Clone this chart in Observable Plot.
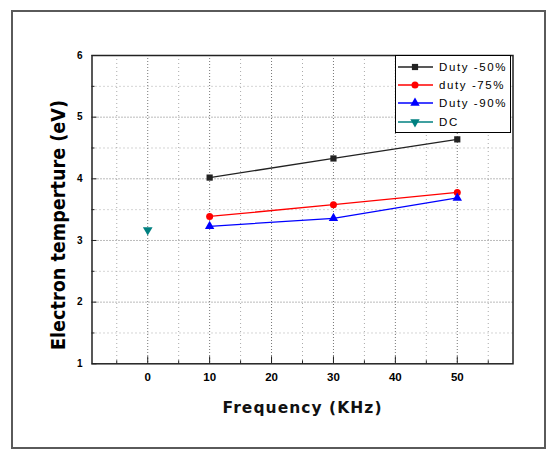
<!DOCTYPE html>
<html>
<head>
<meta charset="utf-8">
<script src="https://cdn.jsdelivr.net/npm/d3@7"></script>
<script src="https://cdn.jsdelivr.net/npm/@observablehq/plot@0.6"></script>
<style>
  html, body { margin: 0; padding: 0; background: #fff; }
  #wrap { position: relative; width: 547px; height: 451px; overflow: hidden; }
  #frame { position: absolute; left: 11px; top: 10px; width: 531px; height: 435px; border: 2.5px solid #5a5a5a; box-sizing: content-box; }
  #chart { position: absolute; left: 0; top: 0; }
  #titles { position: absolute; left: 0; top: 0; pointer-events: none; }
  #legend { position: absolute; left: 395px; top: 55px; width: 114px; height: 76px; border: 1.5px solid #000; background: #fff; }
  #legend .row { position: absolute; left: 0; height: 18px; display: flex; align-items: center; }
  #legend .lab { font-family: "Liberation Sans", Arial, sans-serif; font-size: 11.5px; letter-spacing: 1.6px; color: #000; margin-left: 3px; }
</style>
</head>
<body>
<div id="wrap">
  <div id="frame"></div>
  <div id="chart"></div>
  <svg id="titles" width="547" height="451">
    <text id="xtitle" x="302" y="408" text-anchor="middle" dominant-baseline="central"
      font-family="DejaVu Sans, Verdana, sans-serif" font-weight="bold" font-size="15.5" fill="#111"
      textLength="159" lengthAdjust="spacing">Frequency (KHz)</text>
    <text id="ytitle" transform="translate(58,225) rotate(-90)" text-anchor="middle" dominant-baseline="central"
      font-family="DejaVu Sans, Verdana, sans-serif" font-weight="bold" font-size="19" fill="#000"
      textLength="250" lengthAdjust="spacingAndGlyphs">Electron temperture (eV)</text>
  </svg>
  <div id="legend"></div>
</div>
<script>
// ---- data ----
const frequency = [10, 30, 50];
const duty50 = [4.02, 4.33, 4.64];
const duty75 = [3.39, 3.58, 3.78];
const duty90 = [3.23, 3.36, 3.69];
const dcFrequency = [0];
const dcValue = [3.17];

const seriesNames = ["Duty -50%", "duty -75%", "Duty -90%", "DC"];
const seriesColors = ["#222222", "#ff0000", "#0000ff", "#008080"];
const seriesSymbols = ["square", "circle", "triangle", "triangle"];
const seriesRotate = [0, 0, 0, 180];

const xMajorTicks = [0, 10, 20, 30, 40, 50];
const xMinorTicks = [-5, 5, 15, 25, 35, 45, 55];
const yMajorTicks = [1, 2, 3, 4, 5, 6];
const yMinorTicks = [1.5, 2.5, 3.5, 4.5, 5.5];

const mk = (xs, ys, s) => xs.map((x, i) => ({x, y: ys[i], s}));
const lines = [
  ...mk(frequency, duty50, seriesNames[0]),
  ...mk(frequency, duty75, seriesNames[1]),
  ...mk(frequency, duty90, seriesNames[2])
];
const dc = mk(dcFrequency, dcValue, seriesNames[3]);

const tickFont = {fontFamily: "Liberation Sans, Arial, sans-serif", fontWeight: "bold", tickFormat: d => String(d), fill: "#000"};

const chart = Plot.plot({
  width: 547,
  height: 451,
  marginLeft: 91.5,
  marginRight: 34.5,
  marginTop: 55,
  marginBottom: 87.7,
  style: {background: "transparent", color: "#000"},
  x: {domain: [-9, 59]},
  y: {domain: [1, 6]},
  color: {domain: seriesNames, range: seriesColors},
  marks: [
    Plot.gridX(xMajorTicks, {stroke: "#777", strokeOpacity: 1, strokeDasharray: "1,2", strokeWidth: 1}),
    Plot.gridX(xMinorTicks, {stroke: "#aaa", strokeOpacity: 1, strokeDasharray: "1,3", strokeWidth: 1}),
    Plot.gridY(yMajorTicks.slice(1, -1), {stroke: "#777", strokeOpacity: 1, strokeDasharray: "1,2", strokeWidth: 1}),
    Plot.gridY(yMinorTicks, {stroke: "#aaa", strokeOpacity: 1, strokeDasharray: "1,3", strokeWidth: 1}),
    Plot.axisX({ticks: xMajorTicks, tickSize: -7, fill: "none", label: null, stroke: "#222"}),
    Plot.axisX({ticks: xMinorTicks, tickSize: -3, fill: "none", label: null, stroke: "#222"}),
    Plot.axisY({ticks: yMajorTicks, tickSize: -5, fill: "none", label: null, stroke: "#222"}),
    Plot.axisY({ticks: yMinorTicks, tickSize: -3, fill: "none", label: null, stroke: "#222"}),
    Plot.axisX({ticks: xMajorTicks, tickSize: 0, tickPadding: 9, label: null, fontSize: 11.5, ...tickFont}),
    Plot.axisY({ticks: yMajorTicks, tickSize: 0, tickPadding: 9.5, label: null, fontSize: 10, ...tickFont}),
    Plot.frame({stroke: "#222", strokeWidth: 1.5}),
    Plot.line(lines, {x: "x", y: "y", z: "s", stroke: "s", strokeWidth: 1.3}),
    Plot.dot(lines, {x: "x", y: "y", fill: "s", stroke: "none",
      symbol: d => seriesSymbols[seriesNames.indexOf(d.s)], r: 3.5}),
    Plot.dot(dc, {x: "x", y: "y", fill: "s", stroke: "none", symbol: "triangle", rotate: 180, r: 3.6})
  ]
});
document.getElementById("chart").appendChild(chart);

// ---- legend ----
const legend = document.getElementById("legend");
const symbolPath = (sym, rot) => {
  const p = d3.symbol(sym === "square" ? d3.symbolSquare : sym === "circle" ? d3.symbolCircle : d3.symbolTriangle, Math.PI * 3.5 * 3.5)();
  return `<path d="${p}" transform="translate(19,9) rotate(${rot})"/>`;
};
seriesNames.forEach((name, i) => {
  const row = document.createElement("div");
  row.className = "row";
  row.style.top = (2.2 + i * 18.1) + "px";
  row.innerHTML = `<svg width="40" height="18" style="display:block"><line x1="2" x2="37" y1="9" y2="9" stroke="${seriesColors[i]}" stroke-width="1.3"/><g fill="${seriesColors[i]}">${symbolPath(seriesSymbols[i], seriesRotate[i])}</g></svg><span class="lab">${name}</span>`;
  legend.appendChild(row);
});
</script>
</body>
</html>
